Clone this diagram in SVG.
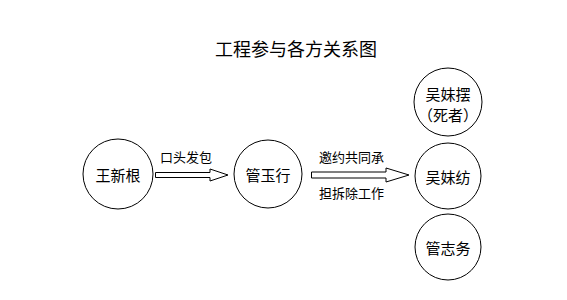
<svg xmlns="http://www.w3.org/2000/svg" width="567" height="300" viewBox="0 0 567 300">
<style>
text{font-family:"Noto Sans CJK SC","Noto Sans",sans-serif;fill:#000}
.n{font-size:15px;text-anchor:middle;dominant-baseline:central}
.l{font-size:13px}
.c{fill:#fff;stroke:#000;stroke-width:1}
.a{fill:#fff;stroke:#000;stroke-width:1}
</style>
<rect width="567" height="300" fill="#fff"/>
<text x="296" y="56" font-size="18" text-anchor="middle">工程参与各方关系图</text>
<g id="connectors">
<polygon class="a" points="155.5,172.5 210,172.5 210,169 228,175 210,181 210,177.5 155.5,177.5"/>
<polygon class="a" points="311.5,172 386,172 386,168 409,175 386,182 386,178 311.5,178"/>
<text class="l" x="160" y="162">口头发包</text>
<text class="l" x="319" y="162">邀约共同承</text>
<text class="l" x="319" y="198">担拆除工作</text>
</g>
<g id="wang"><circle class="c" cx="118" cy="174" r="35"/><text class="n" x="118" y="174">王新根</text></g>
<g id="guan1"><circle class="c" cx="268" cy="174" r="34"/><text class="n" x="268" y="174">管玉行</text></g>
<g id="wu1"><circle class="c" cx="448" cy="102" r="34"/><text class="n" x="448" y="93">吴妹摆</text><text class="n" x="448" y="114">（死者）</text></g>
<g id="wu2"><circle class="c" cx="448" cy="176" r="33"/><text class="n" x="448" y="176">吴妹纺</text></g>
<g id="guan2"><circle class="c" cx="448" cy="247" r="33"/><text class="n" x="448" y="247">管志务</text></g>
</svg>
